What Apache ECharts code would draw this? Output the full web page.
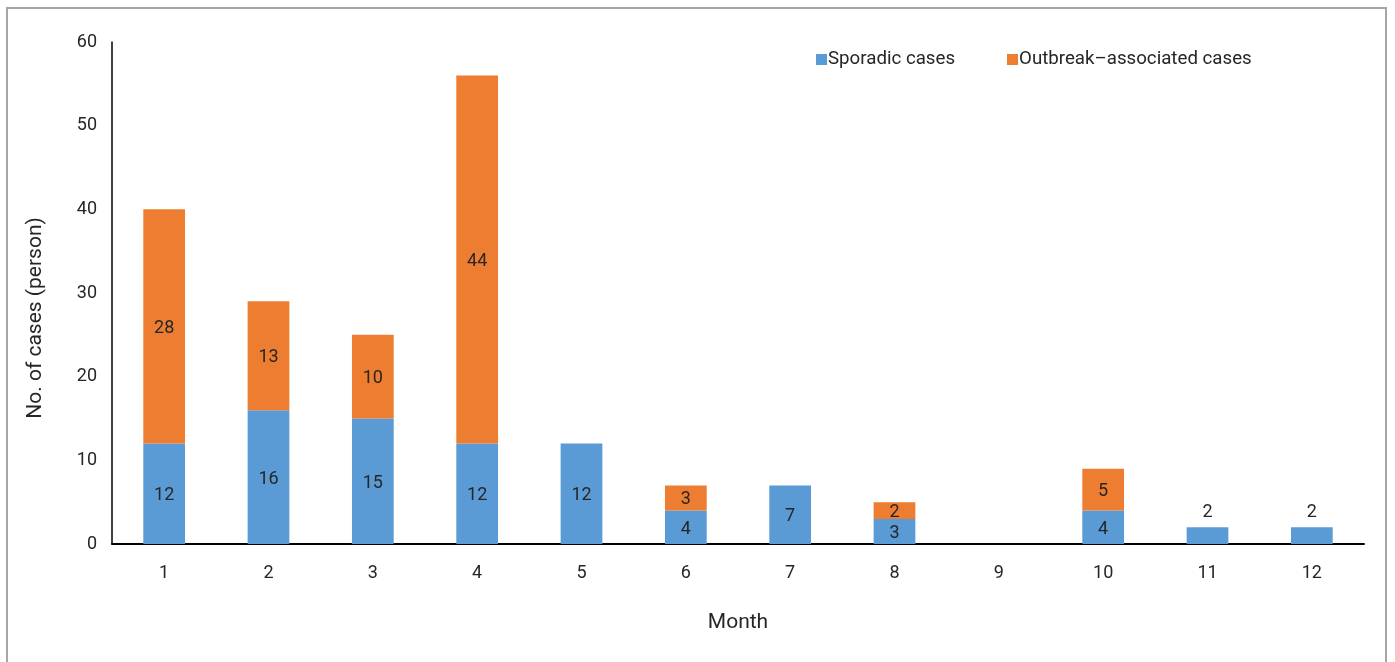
<!DOCTYPE html>
<html>
<head>
<meta charset="utf-8">
<script src="https://cdn.jsdelivr.net/npm/echarts@6/dist/echarts.min.js"></script>
<style>
  html, body { margin: 0; padding: 0; background: #fff; }
  #frame { position: absolute; left: 6px; top: 7px; width: 1381px; height: 700px; border: 2px solid #a6a6a6; box-sizing: border-box; }
  #chart { position: absolute; left: 0; top: 0; width: 1395px; height: 662px; }
</style>
</head>
<body>
<div id="frame"></div>
<div id="chart"></div>
<script>
// Monthly case counts
const months = ['1', '2', '3', '4', '5', '6', '7', '8', '9', '10', '11', '12'];
const sporadic = [12, 16, 15, 12, 12, 4, 7, 3, 0, 4, 2, 2];
const outbreak = [28, 13, 10, 44, 0, 3, 0, 2, 0, 5, 0, 0];
const yTicks = [0, 10, 20, 30, 40, 50, 60];

const FONT = "Roboto, 'Liberation Sans', sans-serif";
const TEXT = '#262626';

// short bars carry their label above the bar
function sporadicItems() {
  return sporadic.map(v => {
    if (!v) return null;
    if (v <= 2) return { value: v, label: { position: 'top', distance: 6, offset: [0, 0] } };
    return v;
  });
}

const insideLabel = { show: true, position: 'inside', offset: [0, 2], fontFamily: FONT, fontSize: 18, color: TEXT };

const chart = echarts.init(document.getElementById('chart'));
chart.setOption({
  backgroundColor: 'transparent',
  animation: false,
  textStyle: { fontFamily: FONT },
  legend: {
    top: 45,
    left: 811,
    itemWidth: 11,
    itemHeight: 11,
    itemGap: 52,
    icon: 'rect',
    textStyle: { fontFamily: FONT, fontSize: 18.7, color: TEXT, padding: [0, 0, 0, -4] },
    data: ['Sporadic cases', 'Outbreak\u2013associated cases']
  },
  grid: { left: 112, right: 31, top: 42, bottom: 118 },
  xAxis: {
    type: 'category',
    data: months,
    name: 'Month',
    nameLocation: 'middle',
    nameGap: 68,
    nameTextStyle: { fontFamily: FONT, fontSize: 21, color: TEXT },
    axisLine: { lineStyle: { color: '#000', width: 2 } },
    axisTick: { show: false },
    axisLabel: { fontFamily: FONT, fontSize: 18, color: TEXT, margin: 20 }
  },
  yAxis: {
    type: 'value',
    min: yTicks[0],
    max: yTicks[yTicks.length - 1],
    interval: 10,
    name: 'No. of cases (person)',
    nameLocation: 'middle',
    nameGap: 66,
    nameTextStyle: { fontFamily: FONT, fontSize: 21, color: TEXT, padding: [0, 0, 0, -50] },
    axisLine: { show: true, lineStyle: { color: '#000', width: 1.5 } },
    axisTick: { show: false },
    splitLine: { show: false },
    axisLabel: { fontFamily: FONT, fontSize: 18, color: TEXT, margin: 15 }
  },
  series: [
    {
      name: 'Sporadic cases',
      type: 'bar',
      stack: 'cases',
      barWidth: '40%',
      itemStyle: { color: '#5B9BD5' },
      label: insideLabel,
      data: sporadicItems()
    },
    {
      name: 'Outbreak\u2013associated cases',
      type: 'bar',
      stack: 'cases',
      barWidth: '40%',
      itemStyle: { color: '#ED7D31' },
      label: insideLabel,
      data: outbreak.map(v => v ? v : null)
    }
  ]
});
</script>
</body>
</html>
